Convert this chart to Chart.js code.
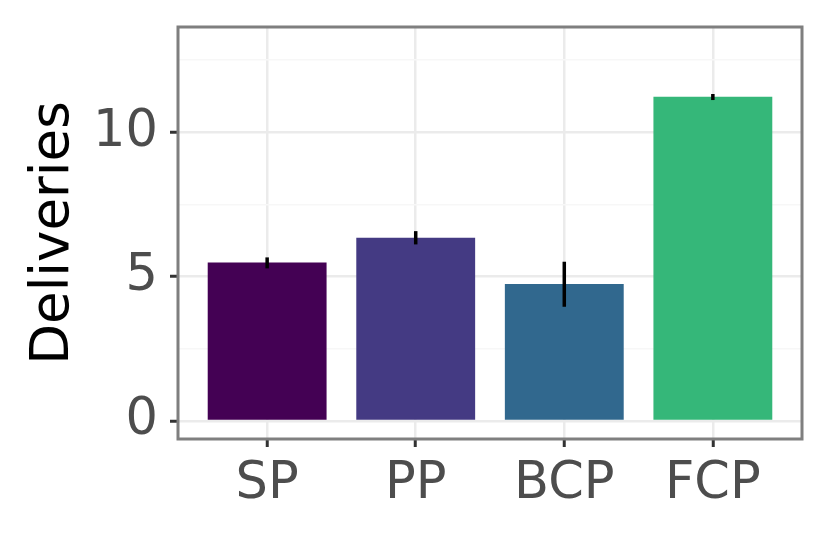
<!DOCTYPE html>
<html>
<head>
<meta charset="utf-8">
<script src="https://cdn.jsdelivr.net/npm/chart.js@4"></script>
<style>
  html, body { margin: 0; padding: 0; background: #ffffff; }
  #wrap { width: 829px; height: 536px; }
</style>
</head>
<body>
<div id="wrap"><canvas id="deliveriesChart" width="829" height="536"></canvas></div>
<script>
// Data
const categories = ['SP', 'PP', 'BCP', 'FCP'];
const means = [5.49, 6.35, 4.75, 11.23];
const lowerBounds = [5.29, 6.12, 3.96, 11.12];
const upperBounds = [5.67, 6.58, 5.52, 11.33];
const barColors = ['#440154', '#443A83', '#31688E', '#35B779'];
const yTicks = [0, 2.5, 5, 7.5, 10, 12.5];

const positions = categories.map((c, i) => i + 1);
const points = positions.map((x, i) => ({ x: x, y: means[i] }));

// error bars, drawn through the chart's own scales
const errorBars = {
    id: 'errorBars',
    afterDatasetsDraw(chart) {
        const { ctx, scales } = chart;
        ctx.save();
        ctx.strokeStyle = '#000000';
        ctx.lineWidth = 3.5;
        positions.forEach((x, i) => {
            const px = scales.x.getPixelForValue(x);
            ctx.beginPath();
            ctx.moveTo(px, scales.y.getPixelForValue(lowerBounds[i]));
            ctx.lineTo(px, scales.y.getPixelForValue(upperBounds[i]));
            ctx.stroke();
        });
        ctx.restore();
    }
};

// grey panel border like theme_bw
const panelBorder = {
    id: 'panelBorder',
    afterDraw(chart) {
        const { ctx, chartArea } = chart;
        ctx.save();
        ctx.strokeStyle = '#7F7F7F';
        ctx.lineWidth = 3;
        ctx.strokeRect(chartArea.left, chartArea.top,
            chartArea.right - chartArea.left, chartArea.bottom - chartArea.top);
        ctx.restore();
    }
};

const isMajor = v => Number.isInteger(v);

const ctx = document.getElementById('deliveriesChart').getContext('2d');
const chart = new Chart(ctx, {
    type: 'bar',
    data: {
        datasets: [{
            data: points,
            backgroundColor: barColors,
            borderWidth: 0,
            categoryPercentage: 0.8,
            barPercentage: 1.0
        }]
    },
    options: {
        responsive: false,
        animation: false,
        devicePixelRatio: 1,
        layout: { padding: { top: 27, right: 27, left: 0, bottom: 0 } },
        plugins: {
            legend: { display: false },
            tooltip: { enabled: false }
        },
        scales: {
            x: {
                type: 'linear',
                min: 0.4,
                max: 4.6,
                offset: false,
                afterBuildTicks: scale => {
                    scale.ticks = positions.map(v => ({ value: v }));
                },
                afterFit: scale => {
                    scale.height = 536 - 439;
                    scale.paddingLeft = 0;
                    scale.paddingRight = 0;
                },
                border: { display: false },
                grid: {
                    offset: false,
                    color: '#EBEBEB',
                    lineWidth: 2.5,
                    tickLength: 8,
                    tickColor: '#333333',
                    tickWidth: 3
                },
                ticks: {
                    autoSkip: false,
                    maxRotation: 0,
                    padding: 7,
                    color: '#4D4D4D',
                    font: { family: 'DejaVu Sans', size: 51 },
                    callback: v => categories[Math.round(v) - 1] || ''
                }
            },
            y: {
                min: -0.62,
                max: 13.65,
                afterBuildTicks: scale => {
                    scale.ticks = yTicks.map(v => ({ value: v }));
                },
                afterFit: scale => {
                    scale.width = 178;
                    scale.paddingTop = 0;
                    scale.paddingBottom = 0;
                },
                border: { display: false },
                grid: {
                    color: c => isMajor(c.tick.value) ? '#EBEBEB' : '#F7F7F7',
                    lineWidth: c => isMajor(c.tick.value) ? 2.5 : 1.5,
                    tickLength: 8,
                    tickColor: c => isMajor(c.tick.value) ? '#333333' : 'rgba(0,0,0,0)',
                    tickWidth: 3
                },
                ticks: {
                    padding: 12,
                    color: '#4D4D4D',
                    font: { family: 'DejaVu Sans', size: 51 },
                    callback: v => isMajor(v) ? String(v) : ''
                },
                title: {
                    display: true,
                    text: 'Deliveries',
                    color: '#000000',
                    font: { family: 'DejaVu Sans', size: 53 },
                    padding: { top: 22, bottom: 0 }
                }
            }
        }
    },
    plugins: [errorBars, panelBorder]
});
</script>
</body>
</html>
